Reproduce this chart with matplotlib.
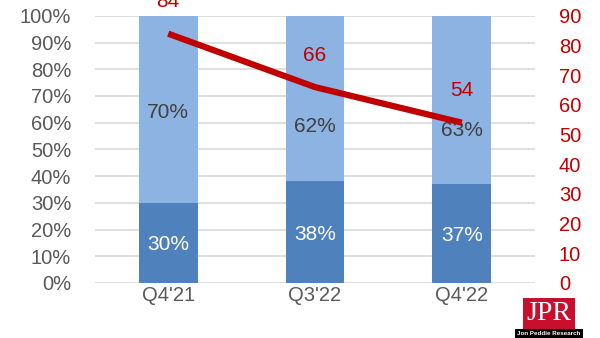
import matplotlib.pyplot as plt
import numpy as np

plt.rcParams['font.family'] = ['Liberation Sans', 'DejaVu Sans']

# 数据
quarters = ["Q4'21", "Q3'22", "Q4'22"]
share_low = [30, 38, 37]
share_high = [70, 62, 63]
units = [84, 66, 54]

fig = plt.figure(figsize=(6, 3.38), dpi=100)
ax = fig.add_axes([0.158, 0.163, 0.734, 0.79])

x = np.arange(len(quarters))
bar_width = 0.4
ax.bar(x, share_low, width=bar_width, color='#4F81BD', zorder=2)
ax.bar(x, share_high, width=bar_width, bottom=share_low, color='#8DB3E2', zorder=2)

# 柱内百分比标签
high_label_y = [64, 58.5, 57]
for i in range(len(quarters)):
    ax.text(x[i], share_low[i] * 0.48, f'{share_low[i]}%', ha='center', va='center',
            color='white', fontsize=15)
    ax.text(x[i], high_label_y[i], f'{share_high[i]}%', ha='center', va='center',
            color='#404040', fontsize=15)

ax.set_xlim(-0.5, 2.5)
ax.set_ylim(0, 100)
ax.set_yticks(range(0, 101, 10))
ax.set_yticklabels([f'{v}%' for v in range(0, 101, 10)])
ax.set_xticks(x)
ax.set_xticklabels(quarters)
ax.tick_params(axis='both', length=0, labelsize=14.5, colors='#595959')
ax.tick_params(axis='y', pad=17)
ax.tick_params(axis='x', pad=2)
ax.grid(axis='y', color='#D9D9D9', linewidth=1.2, zorder=0)
for s in ax.spines.values():
    s.set_visible(False)

# 右轴折线
ax2 = ax.twinx()
ax2.plot(x, units, color='#C00000', linewidth=4.5, solid_capstyle='butt', zorder=3)
ax2.set_ylim(0, 90)
ax2.set_yticks(range(0, 91, 10))
ax2.tick_params(axis='y', length=0, labelsize=14.5, colors='#C00000', pad=17)
for s in ax2.spines.values():
    s.set_visible(False)
for i, v in enumerate(units):
    ax2.annotate(str(v), (x[i], v), xytext=(0, 23), textcoords='offset points',
                 ha='center', va='center', color='#C00000', fontsize=15,
                 annotation_clip=False)

# JPR 标志
fig.text(0.915, 0.072, 'JPR', ha='center', va='center', color='white',
         fontsize=20, family='Liberation Serif',
         bbox=dict(boxstyle='square,pad=0.12', fc='#C8102E', ec='none'))
fig.text(0.915, 0.012, 'Jon Peddie Research', ha='center', va='center', color='white',
         fontsize=4.5, fontweight='bold',
         bbox=dict(boxstyle='square,pad=0.4', fc='black', ec='none'))

plt.savefig('out.png', dpi=100)
